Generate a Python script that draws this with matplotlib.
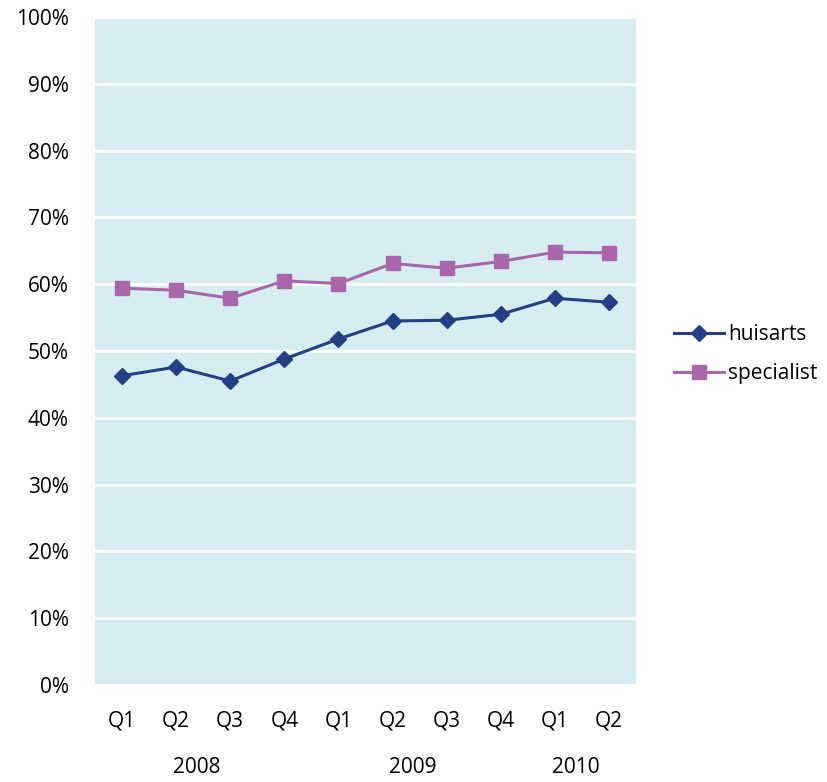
import matplotlib
matplotlib.use("Agg")
import matplotlib.pyplot as plt
from matplotlib.ticker import FuncFormatter

quarters = ["Q1", "Q2", "Q3", "Q4", "Q1", "Q2", "Q3", "Q4", "Q1", "Q2"]
years = ["2008", "2009", "2010"]
year_centers = [1.5, 5.5, 8.5]
huisarts = [46.3, 47.6, 45.5, 48.8, 51.8, 54.5, 54.6, 55.5, 57.9, 57.3]
specialist = [59.4, 59.1, 57.9, 60.5, 60.1, 63.1, 62.4, 63.4, 64.8, 64.7]

plt.rcParams["font.family"] = ["Open Sans", "DejaVu Sans"]
plt.rcParams["font.size"] = 15

fig = plt.figure(figsize=(8.28, 7.82), dpi=100)
ax = fig.add_axes([95 / 828, 1 - 685 / 782, (636 - 95) / 828, (685 - 17) / 782])
ax.set_facecolor("#d6edf2")

x = list(range(len(quarters)))
ax.plot(x, huisarts, color="#243f86", lw=2.2, marker="D", ms=8, label="huisarts", zorder=3)
ax.plot(x, specialist, color="#a966aa", lw=2.2, marker="s", ms=10, label="specialist", zorder=3)

ax.set_ylim(0, 100)
ax.set_xlim(-0.5, len(quarters) - 0.5)
ax.set_yticks(range(0, 101, 10))
ax.yaxis.set_major_formatter(FuncFormatter(lambda v, p: f"{v:.0f}%"))
ax.grid(axis="y", color="white", lw=2)
ax.set_axisbelow(True)
ax.set_xticks(x)
ax.set_xticklabels(quarters)
ax.tick_params(length=0)
ax.tick_params(axis="y", pad=19)
ax.tick_params(axis="x", pad=18)
for s in ax.spines.values():
    s.set_visible(False)

for yr, c in zip(years, year_centers):
    ax.text(c - 0.12, -12.4, yr, ha="center", va="center")

ax.legend(loc="center left", bbox_to_anchor=(1.035, 0.495), frameon=False,
          handlelength=2.4, handletextpad=0.2, labelspacing=0.85)

fig.savefig("out.png", dpi=100)
